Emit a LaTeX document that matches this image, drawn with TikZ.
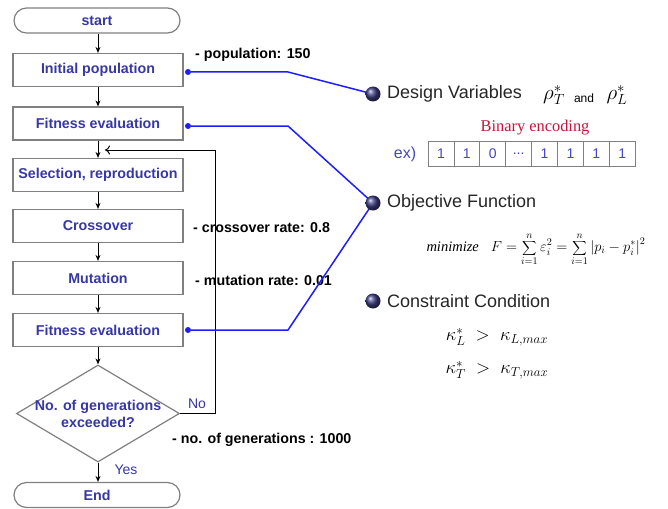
\documentclass[tikz,border=0pt]{standalone}
\usepackage{fix-cm}
\usepackage{fontspec}
\setmainfont{Liberation Sans}
\newfontfamily\seriffont{Liberation Serif}
\usetikzlibrary{shapes.geometric,shapes.misc,arrows.meta}
\definecolor{fc}{RGB}{55,55,165}
\definecolor{bord}{RGB}{128,128,128}
\definecolor{lnk}{RGB}{30,30,255}
\definecolor{enc}{RGB}{200,20,60}
\definecolor{dig}{RGB}{70,70,200}
\definecolor{ballc}{RGB}{60,60,130}
\begin{document}
\begin{tikzpicture}[x=1pt,y=-1pt,
 ft/.style={font=\fontsize{14.25}{17}\selectfont\bfseries, text=fc, align=center, inner sep=0},
 box/.style={draw=bord, line width=1.2pt, minimum width=170pt, minimum height=33pt, inner sep=0, font=\fontsize{14.25}{17}\selectfont\bfseries, text=fc},
 term/.style={draw=bord, line width=1.2pt, rounded rectangle, minimum width=166pt, minimum height=25pt, inner sep=0, font=\fontsize{14.25}{17}\selectfont\bfseries, text=fc},
 arr/.style={-{Stealth[length=6pt,width=5pt]}, line width=1pt},
 note/.style={font=\fontsize{14.25}{17}\selectfont\bfseries, anchor=west, inner sep=0},
 lbl/.style={font=\fontsize{14}{16}\selectfont, text=fc, inner sep=0},
 link/.style={draw=lnk, line width=1.5pt},
 dot/.style={circle, fill=lnk, minimum size=6pt, inner sep=0},
 bullet/.style={circle, shading=ball, ball color=ballc, minimum size=15pt, inner sep=0},
 head/.style={font=\fontsize{18}{20}\selectfont, anchor=west, inner sep=0, text=black!85},
 cell/.style={draw=bord, line width=0.8pt, minimum width=25.9pt, minimum height=25pt, inner sep=0, font=\fontsize{14}{16}\selectfont, text=dig}
]
\fill[white] (0,0) rectangle (668,508);
\useasboundingbox (0,0) rectangle (668,508);

% flowchart
\node[term] (start) at (97,20.5) {start};
\node[box] (init) at (98,70) {Initial population};
\node[box] (fit1) at (98,123.5) {Fitness evaluation};
\node[box] (sel) at (98,175) {Selection, reproduction};
\node[box] (cross) at (98,226) {Crossover};
\node[box] (mut) at (98,278) {Mutation};
\node[box] (fit2) at (98,330) {Fitness evaluation};
\node[diamond, draw=bord, line width=1.2pt, minimum width=163pt, minimum height=97pt, inner sep=0] (dec) at (98,413.5) {};
\node[ft] (dectext) at (dec.center) {No. of generations\\exceeded?};
\node[term] (end) at (97,495) {End};

\draw[arr] (start.south -| init.north) -- (init.north);
\draw[arr] (init) -- (fit1);
\draw[arr] (fit1) -- (sel);
\draw[arr] (sel) -- (cross);
\draw[arr] (cross) -- (mut);
\draw[arr] (mut) -- (fit2);
\draw[arr] (fit2) -- (dec);
\draw[arr] (dec.south) -- (dec.south |- end.north);

\coordinate (lp) at (105,150);
\draw[line width=1pt, -{To[length=5pt,width=9pt]}] (dec.east) -- ++(35,0) |- (lp);

\node[lbl] (no) at (197,404) {No};
\node[lbl] (yes) at (126,470) {Yes};

% notes
\node[note] (n1) at (195,55) {- population: 150};
\node[note] (n2) at (193,228) {- crossover rate: 0.8};
\node[note] (n3) at (195,280) {- mutation rate: 0.01};
\node[note] (n4) at (172,440) {- no. of generations : 1000};

% links
\node[dot] (d1) at (188,72) {};
\node[dot] (d2) at (188,126) {};
\node[dot] (d3) at (188,330) {};
\coordinate (k1) at (288,72);
\coordinate (k2) at (288,126);
\coordinate (k3) at (288,330);
\coordinate (bdvc) at (373,94);
\coordinate (bofc) at (373,203);
\draw[link] (d1) -- (k1) -- (bdvc);
\draw[link] (d2) -- (k2) -- (bofc);
\draw[link] (d3) -- (k3) -- (bofc);
\node[bullet] (bdv) at (bdvc) {};
\node[bullet] (bof) at (bofc) {};
\node[bullet] (bcc) at (373,301) {};

% right side
\node[head] (hdv) at (387,94) {Design Variables};
\node[font=\fontsize{21}{24}\selectfont, inner sep=0] (rhoT) at (554,95) {$\rho_T^*$};
\node[font=\fontsize{12}{14}\selectfont, inner sep=0] (and) at (584,98) {and};
\node[font=\fontsize{21}{24}\selectfont, inner sep=0] (rhoL) at (617,95) {$\rho_L^*$};

\node[font=\seriffont\fontsize{16.4}{18}\selectfont, text=enc, inner sep=0] (benc) at (535,128) {Binary encoding};
\node[font=\fontsize{16}{18}\selectfont, text=dig, inner sep=0] (ex) at (405,154) {ex)};
\node[cell] (b1) at (440.95,153.5) {1};
\node[cell] (b2) at (466.85,153.5) {1};
\node[cell] (b3) at (492.75,153.5) {0};
\node[cell] (b4) at (518.65,153.5) {...};
\node[cell] (b5) at (544.55,153.5) {1};
\node[cell] (b6) at (570.45,153.5) {1};
\node[cell] (b7) at (596.35,153.5) {1};
\node[cell] (b8) at (622.25,153.5) {1};

\node[head] (hof) at (387,203) {Objective Function};
\node[font=\fontsize{14.5}{17}\selectfont, inner sep=0] (form) at (536,249)
  {{\seriffont\itshape minimize}\;\; $\displaystyle F=\sum_{i=1}^{n}\varepsilon_i^{2}=\sum_{i=1}^{n}\left|p_i-p_i^{*}\right|^{2}$};

\node[head] (hcc) at (387,301) {Constraint Condition};
\node[font=\fontsize{18.5}{22}\selectfont, inner sep=0] (k1t) at (497,337) {$\kappa_L^{*} \;>\; \kappa_{L,max}$};
\node[font=\fontsize{18.5}{22}\selectfont, inner sep=0] (k2t) at (497,370) {$\kappa_T^{*} \;>\; \kappa_{T,max}$};
\end{tikzpicture}
\end{document}
